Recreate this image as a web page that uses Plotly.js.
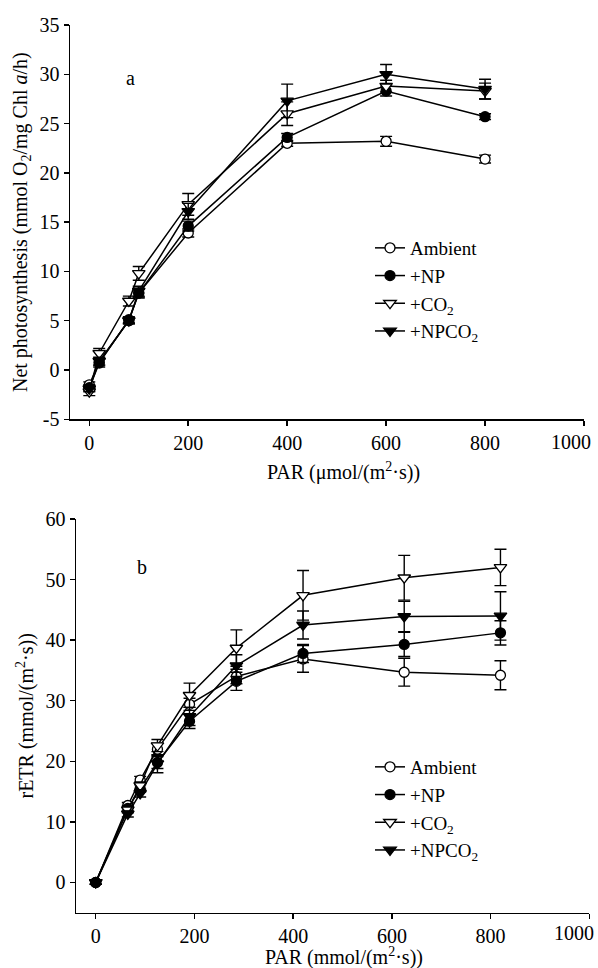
<!DOCTYPE html>
<html><head><meta charset="utf-8">
<script src="https://cdn.plot.ly/plotly-3.0.1.min.js"></script>
<style>html,body{margin:0;padding:0;background:#fff}#chart{width:598px;height:968px}</style>
</head><body><div id="chart"></div>
<script>
// Panel a: net photosynthesis
const parA = [0, 20, 80, 100, 200, 400, 600, 800];
const ambientA = [-1.5, 0.8, 5.0, 7.8, 13.9, 23.0, 23.2, 21.4];
const npA = [-1.8, 0.7, 5.1, 7.8, 14.6, 23.6, 28.3, 25.7];
const co2A = [-2.2, 1.7, 7.0, 9.8, 16.8, 26.0, 28.8, 28.3];
const npco2A = [-1.9, 0.9, 5.0, 8.0, 16.1, 27.3, 30.0, 28.5];
const ambientAErr = [0.3, 0.3, 0.3, 0.4, 0.4, 0.3, 0.5, 0.4];
const npAErr = [0.3, 0.4, 0.3, 0.5, 0.5, 0.4, 0.5, 0.3];
const co2AErr = [0.4, 0.5, 0.5, 0.7, 1.1, 1.2, 0.6, 0.8];
const npco2AErr = [0.3, 0.4, 0.3, 0.5, 0.8, 1.7, 1.0, 1.0];

// Panel b: rETR
const parB = [0, 65, 90, 125, 190, 285, 420, 625, 820];
const ambientB = [0, 12.7, 16.9, 22.0, 29.4, 34.0, 36.9, 34.7, 34.2];
const npB = [0, 12.2, 15.5, 19.8, 26.6, 33.2, 37.8, 39.3, 41.2];
const co2B = [0, 12.0, 16.0, 22.6, 30.9, 38.7, 47.4, 50.3, 52.0];
const npco2B = [0, 11.3, 14.7, 19.6, 27.4, 35.8, 42.5, 43.9, 44.0];
const ambientBErr = [0.3, 0.5, 0.6, 1.0, 1.0, 1.2, 2.2, 2.3, 2.4];
const npBErr = [0.3, 0.5, 0.6, 1.0, 1.2, 1.5, 1.5, 2.0, 2.0];
const co2BErr = [0.3, 0.5, 0.6, 1.0, 2.0, 3.0, 4.1, 3.7, 3.0];
const npco2BErr = [0.3, 0.5, 0.6, 1.5, 1.5, 1.8, 2.3, 2.5, 4.0];

// Tick labels
const xTickVals = [0, 200, 400, 600, 800, 1000];
const xTickText = ['0', '200', '400', '600', '800', '1000'];
const yATickVals = [-5, 0, 5, 10, 15, 20, 25, 30, 35];
const yATickText = ['-5', '0', '5', '10', '15', '20', '25', '30', '35'];
const yBTickVals = [0, 10, 20, 30, 40, 50, 60];
const yBTickText = ['0', '10', '20', '30', '40', '50', '60'];

// last x label is drawn right-aligned at its tick (as in the reference) so it stays on the page
const lastX = xTickVals[xTickVals.length - 1];
const lastXText = xTickText[xTickText.length - 1];
const xTickShown = xTickText.map((t, i) => i === xTickText.length - 1 ? '' : t);

const seriesNames = ['Ambient', '+NP', '+CO<sub>2</sub>', '+NPCO<sub>2</sub>'];
const FONT = '"Liberation Serif", "Times New Roman", serif';

const styles = [
  {symbol: 'circle', color: '#ffffff', size: 10},
  {symbol: 'circle', color: '#000000', size: 10},
  {symbol: 'triangle-down', color: '#ffffff', size: 11},
  {symbol: 'triangle-down', color: '#000000', size: 11}
];

function mk(x, y, err, i, xa, ya, leg) {
  return {
    x: x, y: y, type: 'scatter', mode: 'lines+markers',
    name: seriesNames[i], xaxis: xa, yaxis: ya, legend: leg,
    line: {color: '#000', width: 1.5},
    marker: {symbol: styles[i].symbol, color: styles[i].color, size: styles[i].size,
             line: {color: '#000', width: 1.3}},
    error_y: {type: 'data', array: err, visible: true, color: '#000', thickness: 1.4, width: 6}
  };
}

const data = [
  mk(parA, ambientA, ambientAErr, 0, 'x', 'y', 'legend'),
  mk(parA, npA, npAErr, 1, 'x', 'y', 'legend'),
  mk(parA, co2A, co2AErr, 2, 'x', 'y', 'legend'),
  mk(parA, npco2A, npco2AErr, 3, 'x', 'y', 'legend'),
  mk(parB, ambientB, ambientBErr, 0, 'x2', 'y2', 'legend2'),
  mk(parB, npB, npBErr, 1, 'x2', 'y2', 'legend2'),
  mk(parB, co2B, co2BErr, 2, 'x2', 'y2', 'legend2'),
  mk(parB, npco2B, npco2BErr, 3, 'x2', 'y2', 'legend2')
];

const axBase = {
  showgrid: false, zeroline: false, showline: true, linecolor: '#000', linewidth: 1.5,
  ticks: 'outside', ticklen: 5, tickwidth: 1.5, tickcolor: '#000', automargin: false,
  ticklabeloverflow: 'allow',
  tickfont: {family: FONT, size: 20, color: '#000'}, mirror: false, tickmode: 'array'
};

const layout = {
  width: 598, height: 968,
  margin: {l: 0, r: 0, t: 0, b: 0},
  paper_bgcolor: '#fff', plot_bgcolor: '#fff',
  font: {family: FONT, size: 20, color: '#000'},
  xaxis: Object.assign({}, axBase, {domain: [70/598, 584/598], range: [-39, 1000], tickvals: xTickVals, ticktext: xTickShown, anchor: 'y'}),
  yaxis: Object.assign({}, axBase, {domain: [1-419.3/968, 1-25/968], range: [-5, 35], tickvals: yATickVals, ticktext: yATickText, anchor: 'x',
    title: {text: 'Net photosynthesis (mmol O<sub>2</sub>/mg Chl <i>a</i>/h)', font: {family: FONT, size: 20}, standoff: 6}}),
  xaxis2: Object.assign({}, axBase, {domain: [76/598, 589.3/598], range: [-40, 1000], tickvals: xTickVals, ticktext: xTickShown, anchor: 'y2'}),
  yaxis2: Object.assign({}, axBase, {domain: [1-912.7/968, 1-519/968], range: [-5, 60], tickvals: yBTickVals, ticktext: yBTickText, anchor: 'x2',
    title: {text: 'rETR (mmol/(m<sup>2</sup>·s))', font: {family: FONT, size: 20}, standoff: 6}}),
  legend: {x: 370/598, y: 1-229/968, xanchor: 'left', yanchor: 'top', bgcolor: 'rgba(0,0,0,0)',
    font: {family: FONT, size: 19, color: '#000'}, tracegroupgap: 0, itemwidth: 30},
  legend2: {x: 370/598, y: 1-748/968, xanchor: 'left', yanchor: 'top', bgcolor: 'rgba(0,0,0,0)',
    font: {family: FONT, size: 19, color: '#000'}, tracegroupgap: 0, itemwidth: 30},
  showlegend: true,
  annotations: [
    {text: 'a', xref: 'paper', yref: 'paper', x: 130/598, y: 1-78/968, xanchor: 'center', yanchor: 'middle', showarrow: false, font: {family: FONT, size: 20}},
    {text: 'b', xref: 'paper', yref: 'paper', x: 142/598, y: 1-567/968, xanchor: 'center', yanchor: 'middle', showarrow: false, font: {family: FONT, size: 20}},
    {text: lastXText, xref: 'x', yref: 'paper', x: lastX, xshift: 9, y: 1-442/968, xanchor: 'right', yanchor: 'middle', showarrow: false, font: {family: FONT, size: 20}},
    {text: lastXText, xref: 'x2', yref: 'paper', x: lastX, xshift: 7, y: 1-933/968, xanchor: 'right', yanchor: 'middle', showarrow: false, font: {family: FONT, size: 20}},
    {text: 'PAR (μmol/(m<sup>2</sup>·s))', xref: 'paper', yref: 'paper', x: 344/598, y: 1-472/968, xanchor: 'center', yanchor: 'middle', showarrow: false, font: {family: FONT, size: 20}},
    {text: 'PAR (mmol/(m<sup>2</sup>·s))', xref: 'paper', yref: 'paper', x: 344/598, y: 1-956/968, xanchor: 'center', yanchor: 'middle', showarrow: false, font: {family: FONT, size: 20}}
  ]
};

Plotly.newPlot('chart', data, layout, {displayModeBar: false, staticPlot: true});
</script></body></html>
